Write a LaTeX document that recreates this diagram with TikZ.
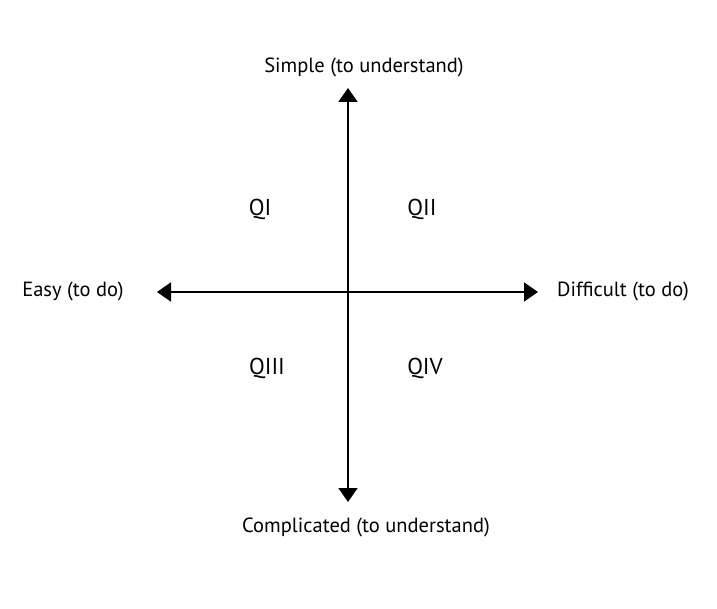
\documentclass[tikz,border=0pt]{standalone}
\usepackage{fontspec}
\setmainfont{PT Sans}
\usetikzlibrary{arrows.meta}
\begin{document}
\begin{tikzpicture}[x=1pt,y=-1pt,
  axis/.style={line width=1.8pt,{Triangle[width=19pt,length=14pt]}-{Triangle[width=19pt,length=14pt]}},
  lbl/.style={font=\fontsize{20.5}{22}\selectfont,inner sep=0pt},
  qlbl/.style={font=\fontsize{23}{25}\selectfont,inner sep=0pt}]
\useasboundingbox (0,0) rectangle (717,609);
\coordinate (top) at (348,88);
\coordinate (bot) at (348,502);
\coordinate (lft) at (157,292);
\coordinate (rgt) at (538,292);
\draw[axis] (bot) -- (top);
\draw[axis] (lft) -- (rgt);
\node[lbl] (simple) at (364,67) {Simple (to understand)};
\node[lbl] (compl) at (366,527) {Complicated (to understand)};
\node[lbl] (easy) at (73,291) {Easy (to do)};
\node[lbl] (diff) at (623,291) {Difficult (to do)};
\node[qlbl] (q1) at (260,209) {QI};
\node[qlbl] (q2) at (422,209) {QII};
\node[qlbl] (q3) at (267,368) {QIII};
\node[qlbl] (q4) at (425,368) {QIV};
\end{tikzpicture}
\end{document}
